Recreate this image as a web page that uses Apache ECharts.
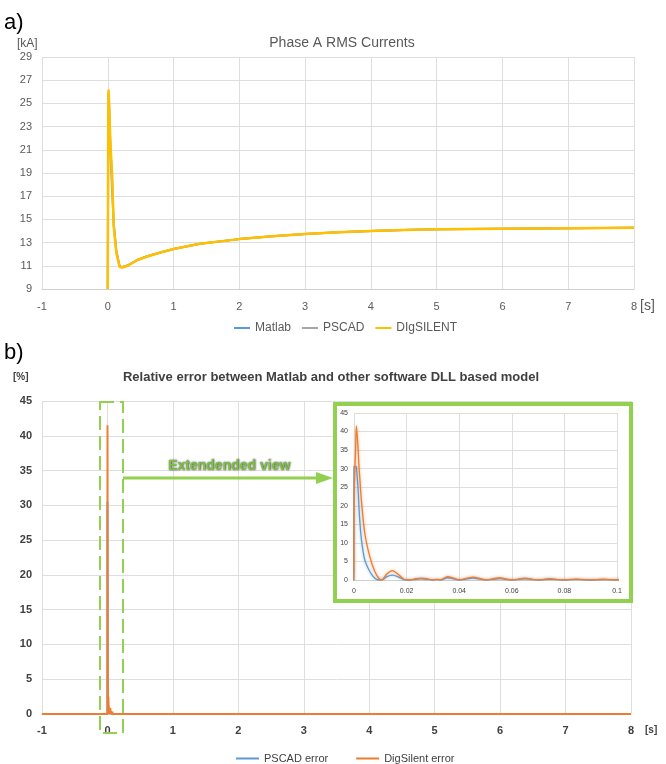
<!DOCTYPE html>
<html><head><meta charset="utf-8">
<script src="https://cdn.jsdelivr.net/npm/echarts@6/dist/echarts.min.js"></script>
<style>html,body{margin:0;padding:0;background:#fff}#c{width:666px;height:764px}</style>
</head><body><div id="c"></div>
<script>
// ---- Chart a) Phase A RMS currents [kA] vs time [s]
const rmsTime      = [0, 0.005, 0.012, 0.02, 0.04, 0.065, 0.09, 0.13, 0.18, 0.22, 0.3, 0.45, 0.6, 0.8, 1.0, 1.4, 2.0, 2.5, 3.0, 3.5, 4.0, 4.5, 5.0, 5.5, 6.0, 6.5, 7.0, 7.5, 8.0];
const rmsMatlab    = [9.0, 19.5, 26.0, 24.9, 21.3, 18.6, 14.5, 12.2, 10.95, 10.88, 11.02, 11.5, 11.82, 12.15, 12.45, 12.9, 13.3, 13.55, 13.75, 13.9, 14.0, 14.08, 14.15, 14.18, 14.2, 14.22, 14.24, 14.26, 14.28];
const rmsPscad     = [9.0, 19.2, 25.8, 24.6, 20.8, 17.4, 14.8, 12.3, 11.0, 10.9, 11.03, 11.5, 11.82, 12.15, 12.45, 12.9, 13.3, 13.55, 13.75, 13.9, 14.0, 14.08, 14.15, 14.18, 14.2, 14.22, 14.24, 14.26, 14.28];
const rmsDigsilent = [9.0, 20.0, 26.2, 25.0, 21.5, 19.0, 14.4, 12.1, 10.9, 10.85, 11.0, 11.5, 11.8, 12.15, 12.45, 12.9, 13.3, 13.55, 13.75, 13.9, 14.0, 14.08, 14.15, 14.18, 14.2, 14.22, 14.24, 14.26, 14.28];
const rmsLegend    = ['Matlab', 'PSCAD', 'DIgSILENT'];

// ---- Chart b) Relative error [%] vs time [s]
const errTime      = [-1, -0.0001, 0, 0.0006, 0.0009, 0.0015, 0.0019, 0.0022, 0.0028, 0.0041, 0.006, 0.0079, 0.0097, 0.0104, 0.0125, 0.0146, 0.017, 0.0193, 0.021, 0.0236, 0.0257, 0.0278, 0.03, 0.0315, 0.033, 0.0345, 0.0356, 0.0375, 0.04, 0.043, 0.0453, 0.048, 0.05, 0.0535, 0.0555, 0.0575, 0.06, 0.063, 0.065, 0.067, 0.07, 0.0725, 0.0745, 0.0765, 0.0795, 0.0825, 0.0847, 0.0865, 0.09, 0.0925, 0.0949, 0.097, 0.1, 0.2, 1, 2, 3, 4, 5, 6, 7, 8];
const errPscad     = [0, 0, 30.5, 30.6, 30.4, 25, 19.5, 16, 11, 5.4, 2.3, 0.5, 0, 0, 0.9, 1.3, 0.8, 0.05, 0, 0.2, 0.3, 0.2, 0, 0.1, 0, 0.4, 0.6, 0.4, 0, 0.3, 0.5, 0.25, 0, 0.25, 0.35, 0.2, 0, 0.2, 0.3, 0.2, 0, 0.12, 0.2, 0.12, 0, 0.1, 0.15, 0.1, 0, 0.06, 0.1, 0.06, 0, 0, 0, 0, 0, 0, 0, 0, 0, 0];
const errDigsilent = [0, 0, 21.5, 35, 41.5, 36, 30.6, 27.5, 21.6, 12.6, 6.3, 2.3, 0.2, 0, 1.6, 2.5, 1.4, 0.1, 0, 0.35, 0.5, 0.3, 0, 0.15, 0, 0.6, 0.9, 0.6, 0, 0.5, 0.8, 0.4, 0, 0.4, 0.6, 0.3, 0, 0.3, 0.5, 0.3, 0, 0.2, 0.35, 0.2, 0, 0.15, 0.25, 0.15, 0, 0.1, 0.2, 0.1, 0, 0, 0, 0, 0, 0, 0, 0, 0, 0];
const errLegend    = ['PSCAD error', 'DigSilent error'];

const zip = (xs, ys) => xs.map((x, i) => [x, ys[i]]);

const GREEN = '#92D050';
const NARROW = '"Liberation Sans Narrow", "Liberation Sans", sans-serif';
const SANS = '"Liberation Sans", Arial, sans-serif';
const GRID_C = '#dedede';

const chart = echarts.init(document.getElementById('c'), null, {renderer: 'canvas'});

const topLabel = {color: '#595959', fontSize: 11, fontFamily: SANS};
const botLabel = {color: '#404040', fontSize: 11, fontFamily: NARROW, fontWeight: 'bold'};
const insetLabel = {color: '#404040', fontSize: 7, fontFamily: NARROW};

chart.setOption({
  animation: false,
  backgroundColor: '#fff',
  grid: [
    {left: 42, top: 57, width: 592, height: 232},
    {left: 42, top: 401, width: 589, height: 313},
    {left: 354, top: 413, width: 263, height: 167, z: 5}
  ],
  xAxis: [
    {type: 'value', gridIndex: 0, min: -1, max: 8, interval: 1,
      axisLine: {show: true, lineStyle: {color: '#d0d0d0'}}, axisTick: {show: false},
      splitLine: {show: true, lineStyle: {color: GRID_C}},
      axisLabel: Object.assign({margin: 12}, topLabel)},
    {type: 'value', gridIndex: 1, min: -1, max: 8, interval: 1,
      axisLine: {show: true, lineStyle: {color: '#d0d0d0'}}, axisTick: {show: false},
      splitLine: {show: true, lineStyle: {color: GRID_C}},
      axisLabel: Object.assign({margin: 11}, botLabel)},
    {type: 'value', gridIndex: 2, min: 0, max: 0.1, interval: 0.02, z: 5,
      axisLine: {show: true, lineStyle: {color: '#d0d0d0'}}, axisTick: {show: false},
      splitLine: {show: true, lineStyle: {color: GRID_C}},
      axisLabel: Object.assign({margin: 8}, insetLabel)}
  ],
  yAxis: [
    {type: 'value', gridIndex: 0, min: 9, max: 29, interval: 2,
      axisLine: {show: false}, axisTick: {show: false},
      splitLine: {show: true, lineStyle: {color: GRID_C}},
      axisLabel: Object.assign({margin: 10}, topLabel)},
    {type: 'value', gridIndex: 1, min: 0, max: 45, interval: 5,
      axisLine: {show: false}, axisTick: {show: false},
      splitLine: {show: true, lineStyle: {color: GRID_C}},
      axisLabel: Object.assign({margin: 10}, botLabel)},
    {type: 'value', gridIndex: 2, min: 0, max: 45, interval: 5, z: 5,
      axisLine: {show: false}, axisTick: {show: false},
      splitLine: {show: true, lineStyle: {color: GRID_C}},
      axisLabel: Object.assign({margin: 6}, insetLabel)}
  ],
  legend: [
    {data: rmsLegend, left: 229, top: 317, icon: 'rect', itemWidth: 16, itemHeight: 2, itemGap: 11,
      textStyle: {color: '#595959', fontSize: 12, fontFamily: SANS}},
    {data: errLegend, left: 231, top: 748, icon: 'rect', itemWidth: 23, itemHeight: 2, itemGap: 28,
      textStyle: {color: '#404040', fontSize: 11, fontFamily: NARROW}}
  ],
  series: [
    {type: 'line', name: rmsLegend[0], xAxisIndex: 0, yAxisIndex: 0, data: zip(rmsTime, rmsMatlab),
      showSymbol: false, color: '#5B9BD5', lineStyle: {width: 2}},
    {type: 'line', name: rmsLegend[1], xAxisIndex: 0, yAxisIndex: 0, data: zip(rmsTime, rmsPscad),
      showSymbol: false, color: '#A5A5A5', lineStyle: {width: 2}},
    {type: 'line', name: rmsLegend[2], xAxisIndex: 0, yAxisIndex: 0, data: zip(rmsTime, rmsDigsilent),
      showSymbol: false, color: '#FFC000', lineStyle: {width: 2.5}},
    {type: 'line', name: errLegend[0], xAxisIndex: 1, yAxisIndex: 1, data: zip(errTime, errPscad),
      showSymbol: false, color: '#5B9BD5', lineStyle: {width: 2}},
    {type: 'line', name: errLegend[1], xAxisIndex: 1, yAxisIndex: 1, data: zip(errTime, errDigsilent),
      showSymbol: false, color: '#ED7D31', lineStyle: {width: 2}},
    {type: 'line', name: errLegend[0], xAxisIndex: 2, yAxisIndex: 2, data: zip(errTime, errPscad), z: 6,
      showSymbol: false, smooth: 0.3, color: '#5B9BD5',
      lineStyle: {width: 1.3, shadowBlur: 3, shadowColor: 'rgba(91,155,213,0.6)'}},
    {type: 'line', name: errLegend[1], xAxisIndex: 2, yAxisIndex: 2, data: zip(errTime, errDigsilent), z: 6,
      showSymbol: false, smooth: 0.3, color: '#ED7D31',
      lineStyle: {width: 1.3, shadowBlur: 3, shadowColor: 'rgba(237,125,49,0.6)'}}
  ],
  graphic: [
    {type: 'text', x: 4, y: 12, z: 1, style: {text: 'a)', fill: '#000', font: '22px ' + SANS}},
    {type: 'text', x: 4, y: 342, z: 1, style: {text: 'b)', fill: '#000', font: '22px ' + SANS}},
    {type: 'text', x: 17, y: 38, z: 1, style: {text: '[kA]', fill: '#595959', font: '12px ' + SANS}},
    {type: 'text', x: 342, y: 43, z: 1, style: {text: 'Phase A RMS Currents', fill: '#595959', font: '14px ' + SANS, align: 'center', verticalAlign: 'middle'}},
    {type: 'text', x: 640, y: 299, z: 1, style: {text: '[s]', fill: '#595959', font: '14px ' + SANS}},
    {type: 'text', x: 13, y: 372, z: 1, style: {text: '[%]', fill: '#404040', font: 'bold 10px ' + NARROW}},
    {type: 'text', x: 331, y: 377, z: 1, style: {text: 'Relative error between Matlab and other software DLL based model', fill: '#404040', font: 'bold 13px ' + NARROW, align: 'center', verticalAlign: 'middle'}},
    {type: 'text', x: 645, y: 725, z: 1, style: {text: '[s]', fill: '#404040', font: 'bold 10px ' + NARROW}},
    {type: 'rect', z: 1, shape: {x: 335, y: 404, width: 296, height: 197}, style: {fill: '#fff', stroke: GREEN, lineWidth: 4}},
    {type: 'rect', z: 3, shape: {x: 100, y: 402, width: 23, height: 331}, style: {fill: 'none', stroke: GREEN, lineWidth: 2, lineDash: [14, 6]}},
    {type: 'polyline', z: 3, shape: {points: [[123, 478], [318, 478]]}, style: {stroke: GREEN, lineWidth: 3, fill: 'none'}},
    {type: 'polygon', z: 3, shape: {points: [[316, 472], [333, 478], [316, 484]]}, style: {fill: GREEN}},
    {type: 'text', x: 229, y: 466, z: 3, style: {text: 'Extendended view', fill: '#7DC243', font: 'bold 14px ' + NARROW, align: 'center', verticalAlign: 'middle', textShadowColor: 'rgba(0,0,0,0.85)', textShadowBlur: 2, textShadowOffsetX: 0.5, textShadowOffsetY: 0.5}}
  ]
});
</script>
</body></html>
